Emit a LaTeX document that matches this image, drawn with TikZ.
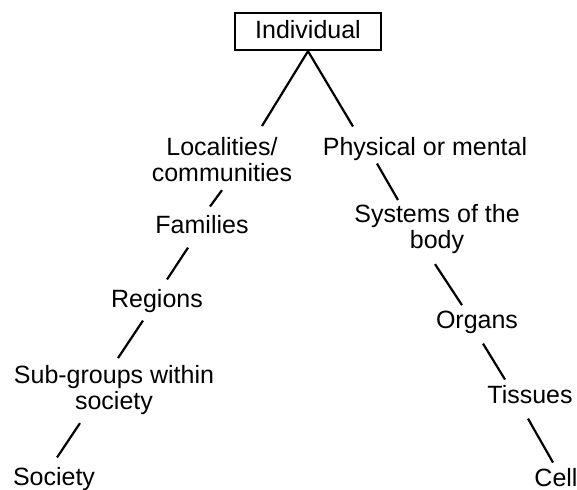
\documentclass[tikz,border=0pt]{standalone}
\usepackage{fontspec}
\setmainfont{Liberation Sans}
\begin{document}
\begin{tikzpicture}
[x=0.5pt,y=-0.5pt,
 every node/.style={font=\fontsize{12.5}{13}\selectfont},
 topbox/.style={draw,line width=1.1pt,inner xsep=10pt,inner ysep=3.5pt,text depth=2.5pt},
 leveltext/.style={inner sep=0pt,align=center},
 linedecorate/.style={line width=1.1pt}]
\useasboundingbox (0,0) rectangle (577,489);
\node[topbox] (ind) at (308,31.5) {Individual};
%% left branch
\node[leveltext,anchor=north] (loc) at (222,137) {Localities/\\communities};
\node[leveltext,anchor=base] (fam) at (202,233) {Families};
\node[leveltext,anchor=base] (reg) at (157,307) {Regions};
\node[leveltext,anchor=north] (sub) at (114,365) {Sub-groups within\\society};
\node[leveltext,anchor=base] (soc) at (54,485) {Society};
%% right branch
\node[leveltext,anchor=base] (phy) at (425,155) {Physical or mental};
\node[leveltext,anchor=north] (sys) at (437,204) {Systems of the\\body};
\node[leveltext,anchor=base] (org) at (477,328) {Organs};
\node[leveltext,anchor=base] (tis) at (530,403) {Tissues};
\node[leveltext,anchor=base] (cell) at (556,486) {Cell};
%% draw the links
\foreach \from/\fx/\fy/\to/\tx/\ty in {ind/0/0/loc/40/-11, ind/0/0/phy/-72/-10,
  loc/0/8/fam/8/-8, fam/-14/14/reg/10/-9, reg/-14/8/sub/4/-7,
  sub/-34/8/soc/3/-9, phy/-48/3/sys/-39/-4, sys/-2/10/org/-15/-5,
  org/6/10/tis/-25/-5, tis/-2/15/cell/-3/-5}
{
  \draw[linedecorate] ([shift={(\fx,\fy)}]\from.south) -- ([shift={(\tx,\ty)}]\to.north);
}
\end{tikzpicture}
\end{document}
